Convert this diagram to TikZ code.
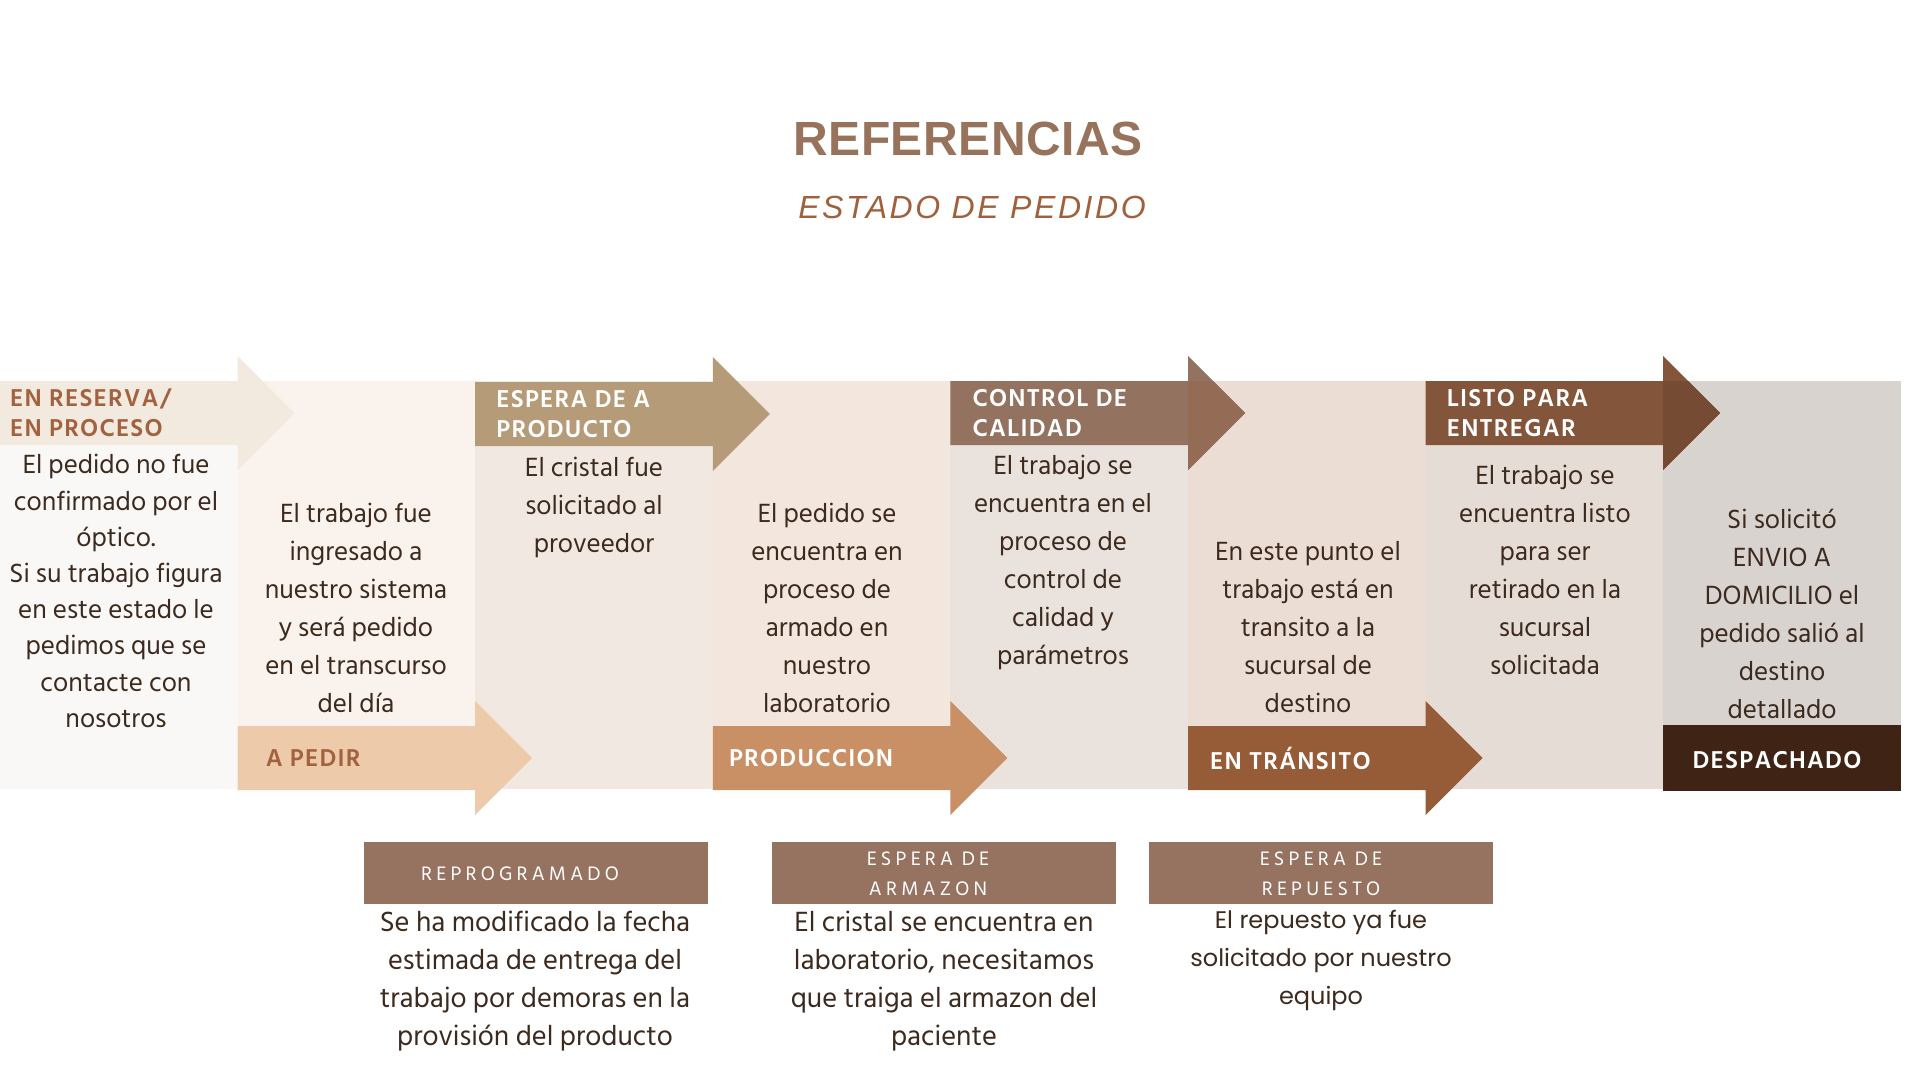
\documentclass[tikz,border=0pt]{standalone}
\usepackage{fontspec}
\setmainfont{Hind Siliguri}
\newfontfamily\titulofont[LetterSpace=1]{Liberation Sans}
\newfontfamily\subtitulofont[LetterSpace=8]{Liberation Sans}
\newfontfamily\etiquetafont[LetterSpace=5]{Hind Siliguri}
\newfontfamily\esperafont[LetterSpace=21]{Hind Siliguri}
\newfontfamily\repuestofont{Poppins}
\usetikzlibrary{calc}
\definecolor{titulo}{HTML}{98735B}
\definecolor{subtitulo}{HTML}{A0603C}
\definecolor{texto}{HTML}{3C2A1E}
\definecolor{cobre}{HTML}{A2623F}
\definecolor{espera}{HTML}{967360}
\definecolor{reserva}{HTML}{F2E9DF}
\definecolor{pedir}{HTML}{EDCBAA}
\definecolor{producto}{HTML}{B69B78}
\definecolor{produccion}{HTML}{C99065}
\definecolor{control}{HTML}{937360}
\definecolor{controlpunta}{HTML}{946B55}
\definecolor{transito}{HTML}{965B37}
\definecolor{listo}{HTML}{83553A}
\definecolor{listopunta}{HTML}{764B33}
\definecolor{despachado}{HTML}{3F2415}
\tikzset{
    cuerpo/.style={align=center, text=texto, inner sep=0pt, font=\fontsize{27}{38}\selectfont},
    etiqueta/.style={align=left, inner sep=0pt, font=\etiquetafont\bfseries\fontsize{25}{30}\selectfont},
    cajaespera/.style={fill=espera, minimum width=344, minimum height=62, inner sep=0pt},
    textoespera/.style={text=white, align=center, inner sep=0pt, font=\esperafont\fontsize{20}{30}\selectfont}
}
\NewDocumentCommand{\flechaestado}{O{white} O{20} m m m m m}{ % kleur tekst, inspringen, kleur pijl, kolom, hoogte midden, naam, tekst
    \coordinate (#6-a) at (237.6*#4,#5-32);
    \coordinate (#6-b) at (237.6*#4+237.6,#5-32);
    \coordinate (#6-c) at (237.6*#4+237.6,#5+32);
    \coordinate (#6-d) at (237.6*#4,#5+32);
    \coordinate (#6-t) at ($(#6-b)!0.5!(#6-c)+(57,0)$);
    \fill[#3] (#6-a) -- (#6-b) -- ($(#6-b)+(0,-25)$) -- (#6-t)
        -- ($(#6-c)+(0,25)$) -- (#6-c) -- (#6-d) -- cycle;
    \node[etiqueta, text=#1, anchor=west] (#6) at ($(#6-a)!0.5!(#6-d)+(#2,0)$) {#7};
}
\NewDocumentCommand{\puntaoscura}{m m}{ % naam pijl, kleur punt
    \begin{scope}
        \clip (0,381) rectangle (1901,789);
        \fill[#2] ($(#1-b)+(0,-25)$) -- (#1-t) -- ($(#1-c)+(0,25)$) -- cycle;
    \end{scope}
}

\begin{document}
\begin{tikzpicture}[x=1pt,y=-1pt]
    \fill[white] (0,0) rectangle (1920,1080);
    \useasboundingbox (0,0) rectangle (1920,1080);
    % achtergrond kolommen
    \foreach \kleur [count=\i from 0] in {FAF8F6,FAF2EC,F1E8E1,F3E6DD,EAE2DD,EBDDD4,E6DCD6,D9D3D0}{
        \definecolor{kolom}{HTML}{\kleur}
        \fill[kolom] (237.6*\i,381) rectangle ++(237.6,408);
    }

    \node[font=\titulofont\bfseries\fontsize{48}{50}\selectfont, text=titulo] (titel) at (968,139) {REFERENCIAS};
    \node[font=\subtitulofont\itshape\fontsize{32}{36}\selectfont, text=subtitulo] (subtitel) at (972,207) {ESTADO DE PEDIDO};

    % pijlen boven en onder
    \flechaestado[cobre][10]{reserva}{0}{413}{reserva}{EN RESERVA/\\EN PROCESO}
    \flechaestado[cobre][28]{pedir}{1}{758}{pedir}{A PEDIR}
    \flechaestado[white][21]{producto}{2}{414}{producto}{ESPERA DE A\\PRODUCTO}
    \flechaestado[white][16]{produccion}{3}{758}{produccion}{PRODUCCION}
    \flechaestado[white][22]{control}{4}{413}{control}{CONTROL DE\\CALIDAD}
    \puntaoscura{control}{controlpunta}
    \flechaestado[white][22]{transito}{5}{758}{transito}{EN TRÁNSITO}
    \flechaestado[white][21]{listo}{6}{413}{listo}{LISTO PARA\\ENTREGAR}
    \puntaoscura{listo}{listopunta}
    \fill[despachado] (1663.2,725) rectangle (1901,791);
    \node[etiqueta, text=white, anchor=center] (despacho) at (1777,760) {DESPACHADO};

    % teksten in de kolommen
    \node[cuerpo, font=\fontsize{27}{36.2}\selectfont] (t0) at (116,591) {El pedido no fue\\confirmado por el\\óptico.\\Si su trabajo figura\\en este estado le\\pedimos que se\\contacte con\\nosotros};
    \node[cuerpo] (t1) at (356,608) {El trabajo fue\\ingresado a\\nuestro sistema\\y será pedido\\en el transcurso\\del día};
    \node[cuerpo] (t2) at (594,507) {El cristal fue\\solicitado al\\proveedor};
    \node[cuerpo] (t3) at (827,608) {El pedido se\\encuentra en\\proceso de\\armado en\\nuestro\\laboratorio};
    \node[cuerpo] (t4) at (1063,562) {El trabajo se\\encuentra en el\\proceso de\\control de\\calidad y\\parámetros};
    \node[cuerpo] (t5) at (1308,627) {En este punto el\\trabajo está en\\transito a la\\sucursal de\\destino};
    \node[cuerpo] (t6) at (1545,570) {El trabajo se\\encuentra listo\\para ser\\retirado en la\\sucursal\\solicitada};
    \node[cuerpo] (t7) at (1782,614) {Si solicitó\\ENVIO A\\DOMICILIO el\\pedido salió al\\destino\\detallado};

    % wachtstatussen onderaan
    \node[cajaespera] (reprogramado) at (536,873) {};
    \node[cajaespera] (armazon) at (944,873) {};
    \node[cajaespera] (repuesto) at (1321,873) {};
    \node[textoespera] (lreprogramado) at ($(reprogramado)+(-16,1)$) {REPROGRAMADO};
    \node[textoespera] (larmazon) at ($(armazon)+(-16,1)$) {ESPERA DE\\ARMAZON};
    \node[textoespera] (lrepuesto) at ($(repuesto)+(0,1)$) {ESPERA DE\\REPUESTO};
    \node[cuerpo, font=\fontsize{28.5}{38}\selectfont] (treprogramado) at (535,981.5) {Se ha modificado la fecha\\estimada de entrega del\\trabajo por demoras en la\\provisión del producto};
    \node[cuerpo, font=\fontsize{28.5}{38}\selectfont] (tarmazon) at (944,981.5) {El cristal se encuentra en\\laboratorio, necesitamos\\que traiga el armazon del\\paciente};
    \node[cuerpo, font=\repuestofont\fontsize{24}{38}\selectfont] (trepuesto) at (1321,960.5) {El repuesto ya fue\\solicitado por nuestro\\equipo};
\end{tikzpicture}
\end{document}
